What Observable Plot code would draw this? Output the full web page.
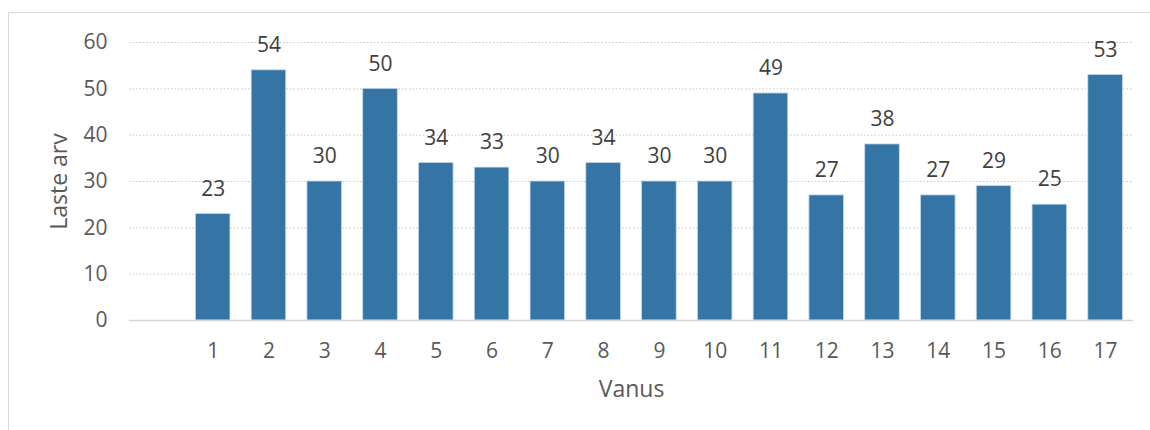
<!DOCTYPE html>
<html>
<head>
<meta charset="utf-8">
<script src="https://cdn.jsdelivr.net/npm/d3@7"></script>
<script src="https://cdn.jsdelivr.net/npm/@observablehq/plot@0.6"></script>
<style>
  html, body { margin: 0; padding: 0; background: #fff; overflow: hidden; width: 1150px; height: 430px; }
  #frame { position: absolute; left: 8px; top: 12px; width: 1160px; height: 440px; border: 1px solid #d9d9d9; box-sizing: border-box; }
  #chart { position: absolute; left: 0; top: 0; }
</style>
</head>
<body>
<div id="frame"></div>
<div id="chart"></div>
<script>
const ages = ["1","2","3","4","5","6","7","8","9","10","11","12","13","14","15","16","17"];
const counts = [23,54,30,50,34,33,30,34,30,30,49,27,38,27,29,25,53];
const yTicks = [0,10,20,30,40,50,60];
const xLabel = "Vanus";
const yLabel = "Laste arv";

const data = ages.map((a, i) => ({age: a, count: counts[i]}));
const xDomain = [""].concat(ages);

const font = "'Open Sans', sans-serif";

const chart = Plot.plot({
  width: 1150,
  height: 430,
  marginLeft: 129,
  marginRight: 17,
  marginTop: 42,
  marginBottom: 110,
  style: {background: "transparent", fontFamily: font, fontSize: "21px", color: "#595959"},
  x: {domain: xDomain, paddingInner: 0.38, paddingOuter: 0.19, round: false, label: null, tickSize: 0, tickPadding: 23},
  y: {domain: [0, 60], ticks: yTicks, label: null, tickSize: 0, tickPadding: 22},
  marks: [
    Plot.ruleY(yTicks.filter(d => d > 0), {stroke: "#c8c8c8", strokeWidth: 1, strokeDasharray: "1.5,2"}),
    Plot.barY(data, {x: "age", y: "count", fill: "#3575a6", stroke: "#c5d8ea", strokeWidth: 0.8}),
    Plot.ruleY([0], {stroke: "#d4d4d4", strokeWidth: 1.5}),
    Plot.text(data, {x: "age", y: "count", text: d => String(d.count), dy: -25, lineAnchor: "middle", fill: "#404040", fontSize: 21, fontFamily: font}),
    Plot.text([yLabel], {frameAnchor: "left", dx: -70, rotate: -90, textAnchor: "middle", lineAnchor: "middle", fill: "#595959", fontSize: 23, fontFamily: font}),
    Plot.text([xLabel], {frameAnchor: "bottom", dy: 69, textAnchor: "middle", lineAnchor: "middle", fill: "#595959", fontSize: 23, fontFamily: font})
  ]
});
document.getElementById("chart").appendChild(chart);
</script>
</body>
</html>
